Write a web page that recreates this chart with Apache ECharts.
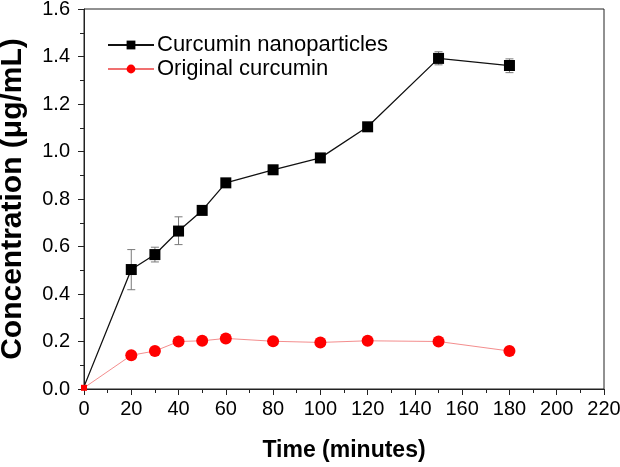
<!DOCTYPE html>
<html><head><meta charset="utf-8">
<script src="https://cdn.jsdelivr.net/npm/echarts@6/dist/echarts.min.js"></script>
<style>html,body{margin:0;padding:0;background:#fff}#c{width:620px;height:467px}</style>
</head><body><div id="c"></div>
<script>
const times = [0, 20, 30, 40, 50, 60, 80, 100, 120, 150, 180];
const nanoValues = [0.01, 0.503, 0.566, 0.665, 0.752, 0.868, 0.923, 0.973, 1.104, 1.392, 1.362];
const originalValues = [0.005, 0.142, 0.160, 0.200, 0.203, 0.213, 0.201, 0.196, 0.203, 0.200, 0.160];
const errTimes = [20, 30, 40, 50, 150, 180];
const errLow = [0.418, 0.535, 0.608, 0.74, 1.365, 1.332];
const errHigh = [0.587, 0.597, 0.725, 0.765, 1.42, 1.39];
const xTicks = [0, 20, 40, 60, 80, 100, 120, 140, 160, 180, 200, 220];
const yTicks = [0, 0.2, 0.4, 0.6, 0.8, 1.0, 1.2, 1.4, 1.6];

const FONT = '"Liberation Sans", Arial, sans-serif';
const chart = echarts.init(document.getElementById('c'), null, {renderer: 'canvas'});

const nanoData = times.map((t, i) => i === 0 ? {value: [t, nanoValues[i]], symbolSize: 0} : [t, nanoValues[i]]);
const origData = times.map((t, i) => i === 0 ? {value: [t, originalValues[i]], symbol: 'rect', symbolSize: 6} : [t, originalValues[i]]);
const errData = errTimes.map((t, i) => [t, errLow[i], errHigh[i]]);

chart.setOption({
  animation: false,
  grid: {left: 84, right: 16, top: 9, bottom: 78, show: true, borderColor: '#222', borderWidth: 1,
    backgroundColor: 'transparent', containLabel: false, outerBoundsMode: 'none'},
  legend: {
    left: 102, top: 29, orient: 'vertical', itemWidth: 46, itemHeight: 11, itemGap: 2,
    textStyle: {fontFamily: FONT, fontSize: 22, color: '#000', padding: [0, 0, 0, -2]},
    data: ['Curcumin nanoparticles', 'Original curcumin']
  },
  xAxis: {
    type: 'value', min: xTicks[0], max: xTicks[xTicks.length - 1], interval: 20,
    name: 'Time (minutes)', nameLocation: 'middle', nameGap: 50,
    nameTextStyle: {fontFamily: FONT, fontSize: 23, fontWeight: 'bold', color: '#000'},
    axisLine: {show: true, lineStyle: {color: '#222', width: 1}},
    axisTick: {show: true, inside: false, length: 6, lineStyle: {color: '#222'}},
    minorTick: {show: true, splitNumber: 2, length: 4, lineStyle: {color: '#222'}},
    splitLine: {show: false},
    axisLabel: {fontFamily: FONT, fontSize: 20, color: '#000', margin: 10}
  },
  yAxis: {
    type: 'value', min: yTicks[0], max: yTicks[yTicks.length - 1], interval: 0.2,
    name: 'Concentration (μg/mL)', nameLocation: 'middle', nameGap: 56,
    nameTextStyle: {fontFamily: FONT, fontSize: 30, fontWeight: 'bold', color: '#000'},
    axisLine: {show: true, lineStyle: {color: '#222', width: 1}},
    axisTick: {show: true, inside: false, length: 6, lineStyle: {color: '#222'}},
    minorTick: {show: true, splitNumber: 2, length: 4, lineStyle: {color: '#222'}},
    splitLine: {show: false},
    axisLabel: {fontFamily: FONT, fontSize: 20, color: '#000', margin: 14, formatter: v => v.toFixed(1)}
  },
  series: [
    {
      type: 'custom', name: 'err', silent: true, z: 1,
      renderItem: function (params, api) {
        const x = api.coord([api.value(0), api.value(1)])[0];
        const lo = api.coord([api.value(0), api.value(1)])[1];
        const hi = api.coord([api.value(0), api.value(2)])[1];
        const w = 4;
        const st = {stroke: '#7a7a7a', lineWidth: 1};
        return {type: 'group', children: [
          {type: 'line', shape: {x1: x, y1: lo, x2: x, y2: hi}, style: st},
          {type: 'line', shape: {x1: x - w, y1: lo, x2: x + w, y2: lo}, style: st},
          {type: 'line', shape: {x1: x - w, y1: hi, x2: x + w, y2: hi}, style: st}
        ]};
      },
      data: errData
    },
    {
      type: 'line', name: 'Curcumin nanoparticles', z: 3,
      symbol: 'rect', symbolSize: 11,
      lineStyle: {color: '#111', width: 1.3},
      itemStyle: {color: '#000'},
      data: nanoData
    },
    {
      type: 'line', name: 'Original curcumin', z: 4,
      symbol: 'circle', symbolSize: 12,
      lineStyle: {color: '#f07070', width: 0.8},
      itemStyle: {color: '#ff0000'},
      data: origData
    }
  ]
});
</script></body></html>
